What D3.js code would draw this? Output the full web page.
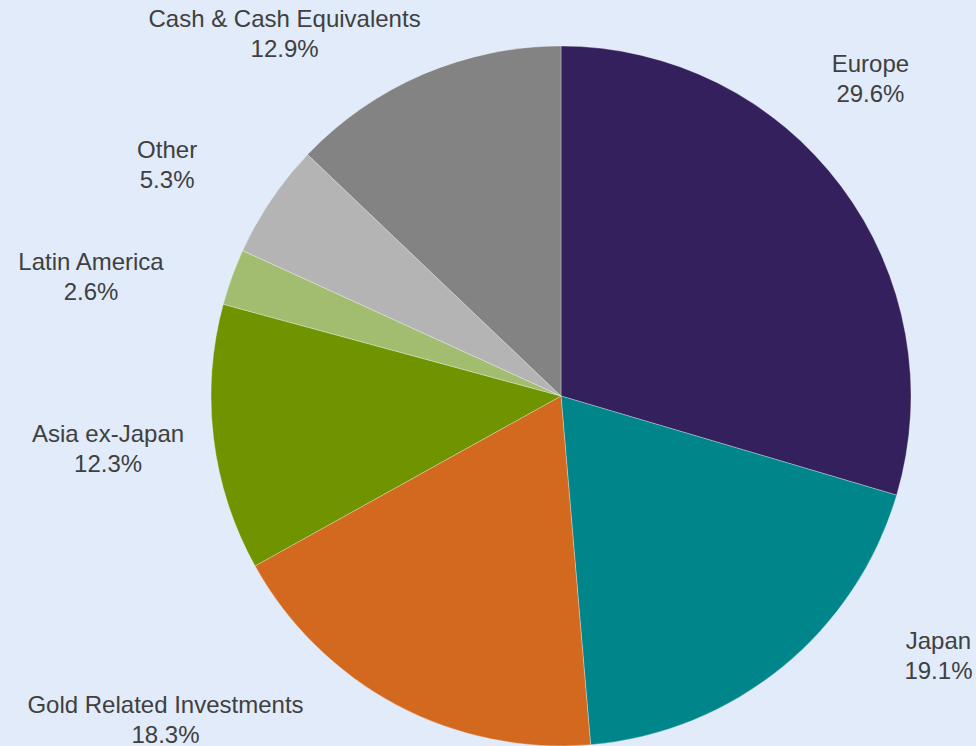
<!DOCTYPE html>
<html lang="en">
<head>
<meta charset="utf-8">
<title>Allocation pie</title>
<script src="https://d3js.org/d3.v7.min.js"></script>
<style>
  html, body { margin: 0; padding: 0; background: #E1EBF9; }
  #chart { width: 976px; height: 746px; overflow: hidden; }
  text { font-family: 'Liberation Sans', Arial, sans-serif; }
</style>
</head>
<body>
<div id="chart"></div>
<script>

/* Data */
/* ==== */

var regions = ['Europe', 'Japan', 'Gold Related Investments', 'Asia ex-Japan',
               'Latin America', 'Other', 'Cash & Cash Equivalents'];
var shares  = [29.6, 19.1, 18.3, 12.3, 2.6, 5.3, 12.9];
var colours = ['#35205E', '#00868A', '#D2691E', '#6F9400', '#A3BD70', '#B4B4B4', '#838383'];

// label nudges from the label-arc centroid (dx, dy of first baseline)
var labelNudge = [[-27, -73], [112, -72], [-198, -54], [-36, -5], [-75, 17], [-46, -3], [-111, 17]];


/* Setup */
/* ===== */

var width = 976,
    height = 746,
    cx = 561,
    cy = 396,
    radius = 350,
    labelRadius = 420,
    lineHeight = 30;

var svg = d3.select('#chart').append('svg')
    .attr('width', width)
    .attr('height', height);

svg.append('rect')
    .attr('width', width)
    .attr('height', height)
    .attr('fill', '#E1EBF9');

var g = svg.append('g')
    .attr('transform', 'translate(' + cx + ',' + cy + ')');

var pie = d3.pie()
    .sort(null)
    .value(function(d) { return d; });

var arc = d3.arc()
    .innerRadius(0)
    .outerRadius(radius);

var labelArc = d3.arc()
    .innerRadius(labelRadius)
    .outerRadius(labelRadius);

var slices = pie(shares);


/* Slices */
/* ====== */

g.selectAll('path.slice')
    .data(slices)
  .enter().append('path')
    .attr('class', 'slice')
    .attr('d', arc)
    .attr('fill', function(d, i) { return colours[i]; })
    .attr('stroke', '#FFFFFF')
    .attr('stroke-opacity', 0.5)
    .attr('stroke-width', 0.6);


/* Labels */
/* ====== */

var labels = g.selectAll('text.label')
    .data(slices)
  .enter().append('text')
    .attr('class', 'label')
    .attr('text-anchor', 'middle')
    .attr('fill', '#404040')
    .style('font-size', '24px')
    .attr('transform', function(d, i) {
      var c = labelArc.centroid(d);
      return 'translate(' + (c[0] + labelNudge[i][0]) + ',' + (c[1] + labelNudge[i][1]) + ')';
    });

labels.append('tspan')
    .attr('x', 0)
    .attr('y', 0)
    .text(function(d, i) { return regions[i]; });

labels.append('tspan')
    .attr('x', 0)
    .attr('y', lineHeight)
    .text(function(d) { return d.value.toFixed(1) + '%'; });

</script>
</body>
</html>
